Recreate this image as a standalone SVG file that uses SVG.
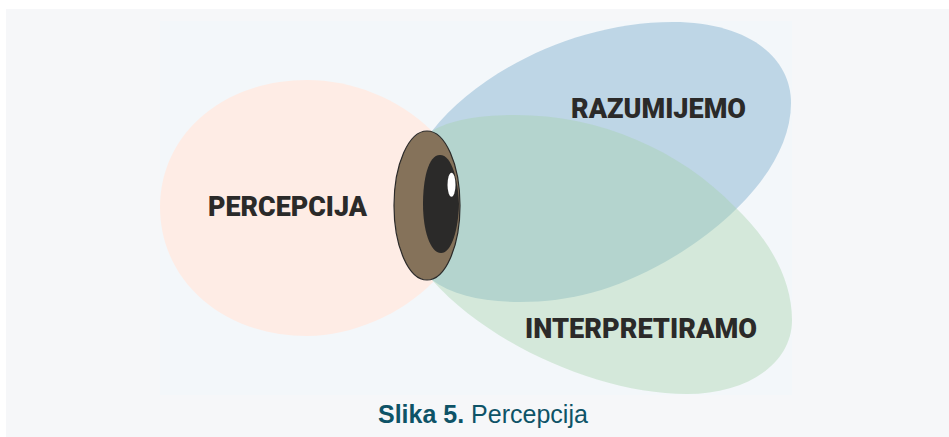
<svg xmlns="http://www.w3.org/2000/svg" width="949" height="437" viewBox="0 0 949 437">
<style>
.lb{font-family:Roboto,"Liberation Sans",Arial,sans-serif;font-weight:900;font-size:27px;fill:#2b2a29}
.cap{font-family:"Liberation Sans",Arial,sans-serif;font-size:25px;fill:#0e5367}
</style>
<rect width="949" height="437" fill="#fff"/>
<rect x="6" y="9" width="943" height="428" fill="#f6f7f9"/>
<rect x="160" y="21" width="632" height="374" fill="#f3f7fa"/>
<g id="percepcija">
<path d="M432,131 C398,98 352,80 307,80 C222,80 160,135 160,207 C160,280 222,336 307,336 C352,336 402,314 433,282 Z" fill="#feece5"/>
<text class="lb" x="208" y="215.500" textLength="159" lengthAdjust="spacingAndGlyphs">PERCEPCIJA</text>
</g>
<g id="razumijemo">
<path d="M432,131 C478,72 575,22 673,22 C745,22 791,55 791,103 C791,165 730,225 665,262 C615,290 570,302 520,302 C482,302 452,295 432,280 Z" fill="#bed6e6"/>
</g>
<g id="interpretiramo">
<path d="M432,131 C450,120 480,115 515,115 C600,115 680,150 735,207 C770,240 792,280 792,320 C792,365 745,394 687,394 C600,394 490,345 432,280 Z" fill="#a6d3aa" fill-opacity="0.4"/>
</g>
<text class="lb" x="571" y="117.500" textLength="175" lengthAdjust="spacingAndGlyphs">RAZUMIJEMO</text>
<text class="lb" x="525" y="338" textLength="232" lengthAdjust="spacingAndGlyphs">INTERPRETIRAMO</text>
<g id="oko">
<ellipse cx="427" cy="205.500" rx="33" ry="74.500" fill="#85725a" stroke="#2b2a29" stroke-width="1.200"/>
<path d="M440,155 C428,155 423,180 423,204 C423,230 430,253 441,253 C452,253 458.500,228 459,204 C458,180 452,155 440,155 Z" fill="#2b2a29"/>
<ellipse cx="451.500" cy="184.700" rx="4" ry="12" fill="#fff"/>
</g>
<g id="caption">
<text class="cap" x="378" y="422.500"><tspan font-weight="700">Slika 5.</tspan> Percepcija</text>
</g>
</svg>
